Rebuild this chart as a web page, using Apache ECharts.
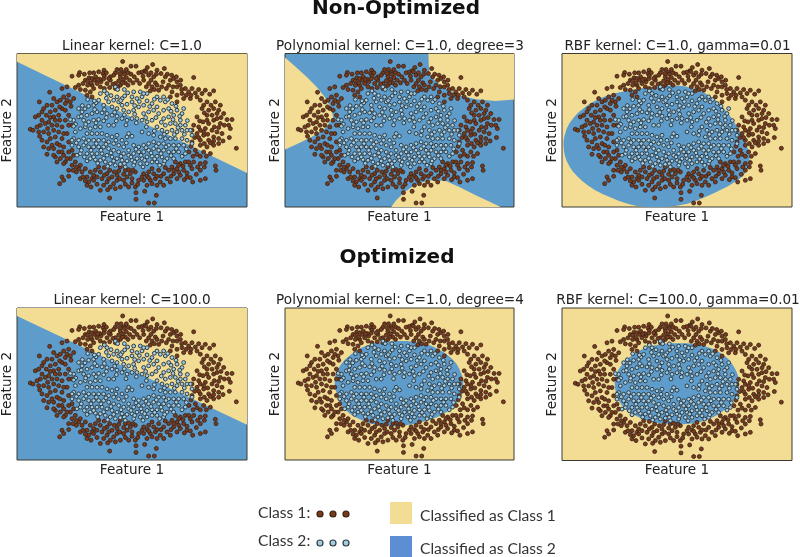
<!DOCTYPE html>
<html><head><meta charset="utf-8">
<style>html,body{margin:0;padding:0;background:#fff}#c{width:800px;height:557px}</style>
<script src="https://cdn.jsdelivr.net/npm/echarts@6/dist/echarts.min.js"></script></head>
<body><div id="c"></div>
<script>
const class1Points=[[367,94],[392,108],[407,108],[457,103],[492,115],[470,120],[433,122],[424,126],[378,118],[362,118],[370,127],[345,128],[372,132],[384,128],[311,120],[295,125],[280,128],[238,127],[235,135],[215,138],[266,143],[275,145],[255,150],[283,150],[308,130],[312,137],[340,135],[360,140],[378,142],[388,150],[368,148],[355,152],[345,160],[330,150],[320,160],[302,155],[290,160],[275,165],[262,165],[248,160],[235,165],[225,172],[240,178],[255,180],[270,185],[280,175],[260,195],[275,200],[300,170],[312,175],[328,172],[345,175],[360,165],[375,158],[410,150],[437,125],[445,135],[460,140],[452,150],[465,158],[445,160],[430,150],[455,170],[470,165],[475,180],[495,140],[510,150],[520,145],[530,155],[505,165],[518,170],[530,170],[540,165],[580,142],[515,185],[530,195],[545,190],[555,175],[565,185],[575,175],[595,178],[615,180],[640,182],[590,200],[570,205],[550,205],[530,215],[510,200],[600,210],[620,215],[645,215],[605,235],[625,240],[640,235],[660,225],[620,255],[635,255],[650,250],[670,250],[680,268],[695,268],[640,270],[620,270],[660,280],[672,285],[690,295],[590,260],[580,285],[595,290],[615,295],[635,300],[575,300],[590,310],[610,315],[650,305],[665,310],[687,322],[640,320],[655,325],[625,330],[600,330],[575,335],[655,340],[640,345],[620,350],[600,345],[585,360],[610,365],[630,370],[708,354],[645,407],[647,420],[615,397],[600,400],[580,395],[570,405],[555,395],[540,400],[525,395],[515,410],[530,415],[550,420],[575,415],[600,420],[615,445],[600,450],[577,455],[560,440],[540,435],[520,430],[505,420],[490,430],[500,445],[475,420],[460,430],[445,425],[430,430],[465,445],[480,455],[470,465],[450,450],[430,450],[415,450],[405,425],[390,430],[375,420],[360,410],[380,440],[395,445],[370,450],[350,435],[335,440],[320,430],[300,425],[285,420],[305,445],[320,455],[340,460],[330,470],[310,465],[300,480],[360,470],[385,470],[407,487],[433,483],[405,470],[445,518],[462,518],[468,495],[407,507],[328,503],[275,445],[260,440],[245,425],[235,415],[225,395],[210,385],[215,405],[205,420],[205,438],[185,440],[190,450],[178,460],[260,465],[240,445],[265,455],[280,450],[90,297],[98,300],[105,260],[115,255],[117,215],[130,235],[148,186],[185,175],[200,170],[155,225],[170,215],[190,200],[205,195],[220,205],[210,215],[195,220],[165,240],[150,245],[175,255],[185,235],[160,260],[145,275],[155,285],[135,280],[120,285],[130,305],[115,305],[125,330],[130,350],[140,372],[165,380],[175,365],[190,375],[155,345],[150,325],[165,320],[185,325],[200,310],[215,285],[205,335],[190,350],[215,360],[160,300],[185,290],[205,255],[170,340],[195,395],[180,385],
[252,132],[268,128],[286,140],[298,147],[318,128],[330,140],[350,118],[358,130],[392,132],[402,140],[415,128],[428,138],[441,112],[452,128],[468,132],[482,130],[501,132],[514,135],[528,140],[541,150],[262,152],[272,158],[292,148],[310,146],[325,145],[338,162],[352,170],[366,158],[383,165],[398,158],[418,160],[438,170],[450,182],[462,178],[488,155],[498,175],[484,170],[544,178],[558,195],[572,195],[585,188],[605,190],[628,192],[610,225],[632,225],[655,240],[612,248],[598,272],[608,275],[625,280],[650,265],[662,262],[685,285],[642,290],[655,292],[610,305],[622,312],[600,300],[583,322],[595,322],[640,332],[668,332],[630,338],[612,340],[590,372],[600,378],[618,378],[572,348],[566,365],[578,378],
[592,410],[612,410],[565,395],[548,408],[535,405],[520,420],[535,425],[560,428],[588,432],[570,442],[552,448],[530,445],[512,438],[495,412],[482,438],[455,415],[470,438],[440,438],[455,460],[445,442],[425,440],[412,462],[398,420],[385,418],[370,432],[355,422],[342,425],[328,420],[312,412],[295,410],[280,435],[290,440],[312,435],[325,445],[350,450],[358,445],[375,462],[345,475],[322,478],[395,458],[270,425],[255,415],[240,405],[228,410],[218,420],[248,440],[255,452],[272,470],[290,462],[440,465],[490,465],[510,455],
[125,245],[140,225],[178,230],[160,205],[180,210],[200,210],[212,228],[195,240],[178,270],[165,270],[150,262],[138,255],[125,270],[110,290],[142,295],[170,285],[195,270],[205,285],[145,310],[175,305],[190,310],[140,335],[118,318],[178,345],[160,355],[145,355],[205,365],[200,385],[170,395],[185,365],[220,375],[160,375],[190,400],[228,425]];
const class2Points=[[382,188],[400,185],[350,200],[340,210],[355,215],[325,215],[310,225],[295,210],[280,225],[265,228],[335,230],[350,235],[365,225],[380,222],[395,215],[410,205],[425,200],[440,212],[430,225],[415,230],[400,240],[385,245],[370,240],[455,220],[470,230],[480,210],[495,215],[505,235],[490,240],[475,250],[460,240],[445,245],[430,250],[515,220],[530,240],[545,250],[520,255],[505,260],[490,265],[540,270],[525,280],[510,280],[495,285],[555,285],[570,300],[545,300],[530,305],[515,300],[500,305],[485,300],[470,290],[455,270],[440,275],[425,270],[410,265],[395,265],[380,270],[365,265],[350,258],[335,255],[320,250],[305,248],[290,245],[275,250],[260,255],[245,245],[235,260],[220,270],[250,270],[265,275],[280,270],[295,268],[310,272],[325,285],[340,285],[300,290],[285,290],[270,295],[255,290],[240,295],[225,305],[260,310],[275,310],[290,310],[305,310],[320,315],[335,320],[350,315],[365,330],[385,310],[395,318],[380,320],[425,305],[445,310],[460,315],[480,320],[495,325],[510,325],[525,325],[545,325],[560,330],[550,345],[535,345],[520,345],[505,345],[490,340],[475,340],[460,335],[445,340],[430,345],[415,350],[400,345],[385,360],[370,350],[355,345],[340,340],[325,335],[310,330],[295,330],[280,330],[265,330],[250,325],[235,330],[220,325],[215,345],[235,350],[250,345],[265,350],[280,350],[295,350],[310,350],[325,355],[340,360],[355,365],[370,370],[385,375],[400,370],[415,365],[430,365],[445,360],[460,355],[475,360],[490,360],[505,365],[520,365],[535,365],[555,370],[260,370],[275,370],[290,370],[305,370],[320,375],[335,380],[350,385],[365,390],[380,392],[395,390],[410,385],[425,385],[440,380],[455,378],[470,378],[485,380],[500,385],[520,385],[240,370],[230,375],[270,385],[285,388],[300,390],[315,395],[330,400],[345,405],[360,402],[400,405],[420,400],[440,400],[455,395],[470,395],[490,400],[345,170],[300,190],[320,190],[365,205],[395,200],[540,285],[575,315],[235,235],[262,208],[550,235],[440,190],[470,200],[420,185],
[287,218],[318,204],[332,196],[361,211],[373,197],[403,226],[417,214],[448,229],[462,207],[502,208],[512,243],[527,228],[538,258],[561,271],[533,292],[518,268],[483,276],[467,262],[436,262],[403,252],[372,254],[343,246],[312,238],[283,238],[254,236],[243,258],[226,282],[256,282],[287,278],[318,262],[348,272],[377,284],[408,278],[438,290],[462,302],[492,312],[522,313],[552,312],[558,356],[528,355],[497,350],[468,348],[437,352],[407,357],[378,338],[347,330],[317,342],[288,340],[257,337],[228,338],[243,360],[272,360],[302,360],[332,368],[362,378],[392,380],[422,375],[452,368],[482,370],[512,376],[545,378],[252,380],[280,380],[310,384],[340,392],[372,400],[403,395],[433,390],[463,386],[493,392],[260,392],[292,399],[322,408],[375,410],[428,410],[478,405],[352,178],[312,182],[372,178],[430,190],[490,200],[282,212],[246,226],[220,288],[215,330],[575,340],[560,300],[210,268]];

const linearC1=[[[50,70],[740,70],[740,428],[50,95]]];
const poly3=[
 [[50,82],[80,108],[115,140],[145,170],[170,200],[190,235],[195,262],[170,295],[130,320],[90,340],[50,358]],
 [[482,70],[483,100],[485,130],[505,155],[535,175],[575,195],[625,207],[685,212],[740,208],[740,70]],
 [[370,530],[385,510],[410,485],[445,462],[485,450],[535,452],[575,470],[625,495],[700,530]]];
const rbf1=[[[55,350],[61,305],[83,265],[118,232],[158,208],[208,190],[268,178],[328,170],[393,166],[453,178],[508,208],[548,250],[578,295],[601,340],[613,380],[601,425],[568,455],[523,480],[473,503],[418,522],[358,530],[303,530],[248,520],[193,500],[143,475],[98,440],[68,400]]];
const linearC100=[[[50,70],[740,70],[740,423],[50,94]]];
const poly4=[[[200,286],[215,246],[255,206],[305,181],[375,171],[445,173],[505,191],[555,226],[580,266],[587,306],[575,346],[535,386],[475,411],[405,426],[345,426],[285,411],[235,381],[210,341]]];
const rbf100=[[[208,296],[223,251],[263,211],[323,184],[403,176],[473,184],[533,211],[568,251],[581,296],[573,336],[533,381],[473,411],[403,421],[333,416],[273,396],[228,361]]];

const panelTitles=['Linear kernel: C=1.0','Polynomial kernel: C=1.0, degree=3','RBF kernel: C=1.0, gamma=0.01','Linear kernel: C=100.0','Polynomial kernel: C=1.0, degree=4','RBF kernel: C=100.0, gamma=0.01'];
const panelRegions=[linearC1,poly3,rbf1,linearC100,poly4,rbf100];
const xLabel='Feature 1', yLabel='Feature 2';

const YEL='#f3dc93', BLU='#5d9ccb';
const frames=[[17,53.5,230,153.5,BLU,YEL,false],[285,53.5,229,153.5,BLU,YEL,false],[562,53.5,230,153.5,YEL,BLU,true],
              [17,308,230,152,BLU,YEL,false],[285,308,229,152,YEL,BLU,true],[562,308,230,152.5,YEL,BLU,true]];
const titleY=[41.5,41.5,41.5,295.5,295.5,295.5], titleX=[127,395,672.5,127,395,673];
const ft='"DejaVu Sans"';
const grid=[],xAxis=[],yAxis=[],series=[],title=[];
frames.forEach((f,i)=>{
  grid.push({left:f[0],top:f[1],width:f[2],height:f[3],show:true,backgroundColor:f[4],borderColor:'#3a3a32',borderWidth:1,outerBoundsMode:'none',containLabel:false});
  xAxis.push({gridIndex:i,type:'value',min:50,max:740,splitLine:{show:false},axisTick:{show:false},axisLabel:{show:false},axisLine:{show:false},
    name:xLabel,nameLocation:'middle',nameGap:3,nameTextStyle:{fontFamily:ft,fontSize:13.6,color:'#222'}});
  yAxis.push({gridIndex:i,type:'value',min:70,max:530,inverse:true,splitLine:{show:false},axisTick:{show:false},axisLabel:{show:false},axisLine:{show:false},
    name:yLabel,nameLocation:'middle',nameGap:3,nameTextStyle:{fontFamily:ft,fontSize:13.6,color:'#222'}});
  title.push({text:panelTitles[i],left:titleX[i],top:titleY[i],textAlign:'center',textVerticalAlign:'middle',
    textStyle:{fontFamily:ft,fontSize:13.6,fontWeight:'normal',color:'#222'}});
  const regs=panelRegions[i], fill=f[5], sm=f[6]?0.4:0;
  series.push({type:'custom',xAxisIndex:i,yAxisIndex:i,clip:true,silent:true,z:1,
    data:regs.map((r,k)=>[k]),
    encode:{x:-1,y:-1},
    renderItem:(p,api)=>({type:'polygon',shape:{points:regs[api.value(0)].map(q=>api.coord(q)),smooth:sm},style:{fill:fill}})});
  series.push({type:'scatter',xAxisIndex:i,yAxisIndex:i,data:class1Points,symbolSize:4,silent:true,z:3,
    itemStyle:{color:'#7a3a1c',borderColor:'#33231a',borderWidth:0.8,opacity:1}});
  series.push({type:'scatter',xAxisIndex:i,yAxisIndex:i,data:class2Points,symbolSize:3.8,silent:true,z:4,
    itemStyle:{color:'#a4cde0',borderColor:'#2f3b45',borderWidth:1,opacity:1}});
});
title.push({text:'Non-Optimized',left:391,top:4,textAlign:'center',textVerticalAlign:'middle',textStyle:{fontFamily:ft,fontSize:20,fontWeight:'bold',color:'#111'}});
title.push({text:'Optimized',left:392,top:253,textAlign:'center',textVerticalAlign:'middle',textStyle:{fontFamily:ft,fontSize:20,fontWeight:'bold',color:'#111'}});

const lf='Lato';
const txt=(t,x,y)=>({type:'text',x:x,y:y,style:{text:t,fontFamily:lf,fontSize:15.6,fill:'#333',textVerticalAlign:'middle'}});
const dot=(x,y,c,b)=>({type:'circle',shape:{cx:x,cy:y,r:3},style:{fill:c,stroke:b,lineWidth:1.2}});
const graphic=[
 txt('Class 1:',258,513),txt('Class 2:',258,541),
 ...[320,333,346].map(x=>dot(x,514,'#7a3a1c','#3a2010')),
 ...[320,333,346].map(x=>dot(x,543,'#a4cde0','#2f3b45')),
 {type:'rect',shape:{x:390,y:502,width:22,height:22},style:{fill:YEL}},
 {type:'rect',shape:{x:390,y:536,width:22,height:21},style:{fill:'#5d8ed4'}},
 txt('Classified as Class 1',420,516),txt('Classified as Class 2',420,549)
];
const chart=echarts.init(document.getElementById('c'),null,{renderer:'canvas'});
chart.setOption({animation:false,backgroundColor:'#fff',tooltip:{show:false},grid,xAxis,yAxis,series,title,graphic});
</script></body></html>
